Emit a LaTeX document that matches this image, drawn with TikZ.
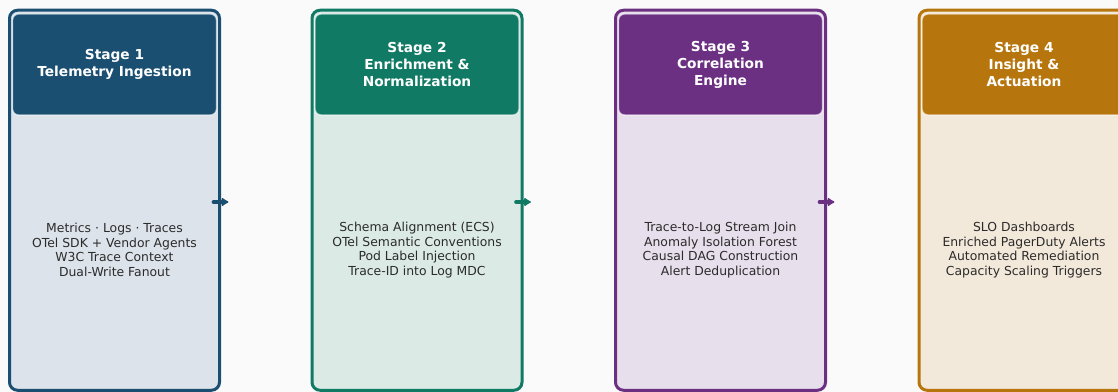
\documentclass[tikz,border=0pt]{standalone}
\usepackage{fontspec}
\setmainfont{DejaVu Sans}
\usetikzlibrary{arrows.meta}

\definecolor{stageA}{HTML}{1B4F72}
\definecolor{stageAbg}{HTML}{DCE3EA}
\definecolor{stageB}{HTML}{117A65}
\definecolor{stageBbg}{HTML}{DCEAE6}
\definecolor{stageC}{HTML}{6C3083}
\definecolor{stageCbg}{HTML}{E7DFEC}
\definecolor{stageD}{HTML}{B7760D}
\definecolor{stageDbg}{HTML}{F3E9DB}
\definecolor{pagebg}{HTML}{FAFAFA}
\definecolor{bodytext}{HTML}{2B2B2B}

\tikzset{
  card/.style 2 args={draw=#1, fill=#2, line width=2.25pt, rounded corners=6pt,
    minimum width=157.5pt, minimum height=285pt, inner sep=0pt},
  head/.style={fill=#1, draw=white, draw opacity=0.6, line width=1.1pt,
    rounded corners=4.5pt, minimum width=153pt, minimum height=75.75pt,
    inner sep=0pt, text=white, align=center,
    font=\bfseries\fontsize{10.3}{12.8}\selectfont},
  body/.style={text=bodytext, align=center, inner sep=0pt,
    font=\fontsize{9.3}{10.9}\selectfont},
  flow/.style={draw=#1, fill=#1, line width=3pt, line cap=round,
    -{Latex[round,length=6pt,width=7.5pt]}}
}

\begin{document}
\begin{tikzpicture}[x=0.75pt,y=-0.75pt]
\useasboundingbox (0,0) rectangle (1118,392);
\clip (0,0) rectangle (1118,392);
\fill [pagebg] (0,0) rectangle (1118,392);

\node [card={stageA}{stageAbg}] (card1) at (114.5,200.25) {};
\node [head=stageA] (head1) at (114.5,64.5) {Stage 1\\Telemetry Ingestion};
\node [body] (body1) at (114.5,250) {Metrics · Logs · Traces\\OTel SDK + Vendor Agents\\W3C Trace Context\\Dual-Write Fanout};

\node [card={stageB}{stageBbg}] (card2) at (417,200.25) {};
\node [head=stageB] (head2) at (417,64.5) {Stage 2\\Enrichment \&\\Normalization};
\node [body] (body2) at (417,250) {Schema Alignment (ECS)\\OTel Semantic Conventions\\Pod Label Injection\\Trace-ID into Log MDC};

\node [card={stageC}{stageCbg}] (card3) at (720.5,200.25) {};
\node [head=stageC] (head3) at (720.5,64.5) {Stage 3\\Correlation\\Engine};
\node [body] (body3) at (720.5,250) {Trace-to-Log Stream Join\\Anomaly Isolation Forest\\Causal DAG Construction\\Alert Deduplication};

\node [card={stageD}{stageDbg}] (card4) at (1024,200.25) {};
\node [head=stageD] (head4) at (1024,64.5) {Stage 4\\Insight \&\\Actuation};
\node [body] (body4) at (1024,250) {SLO Dashboards\\Enriched PagerDuty Alerts\\Automated Remediation\\Capacity Scaling Triggers};

\draw [flow=stageA] ([xshift=-5.5pt]card1.east |- 0,202) -- ([xshift=5.5pt]card1.east |- 0,202);
\draw [flow=stageB] ([xshift=-5.5pt]card2.east |- 0,202) -- ([xshift=5.5pt]card2.east |- 0,202);
\draw [flow=stageC] ([xshift=-5.5pt]card3.east |- 0,202) -- ([xshift=5.5pt]card3.east |- 0,202);
\end{tikzpicture}
\end{document}
